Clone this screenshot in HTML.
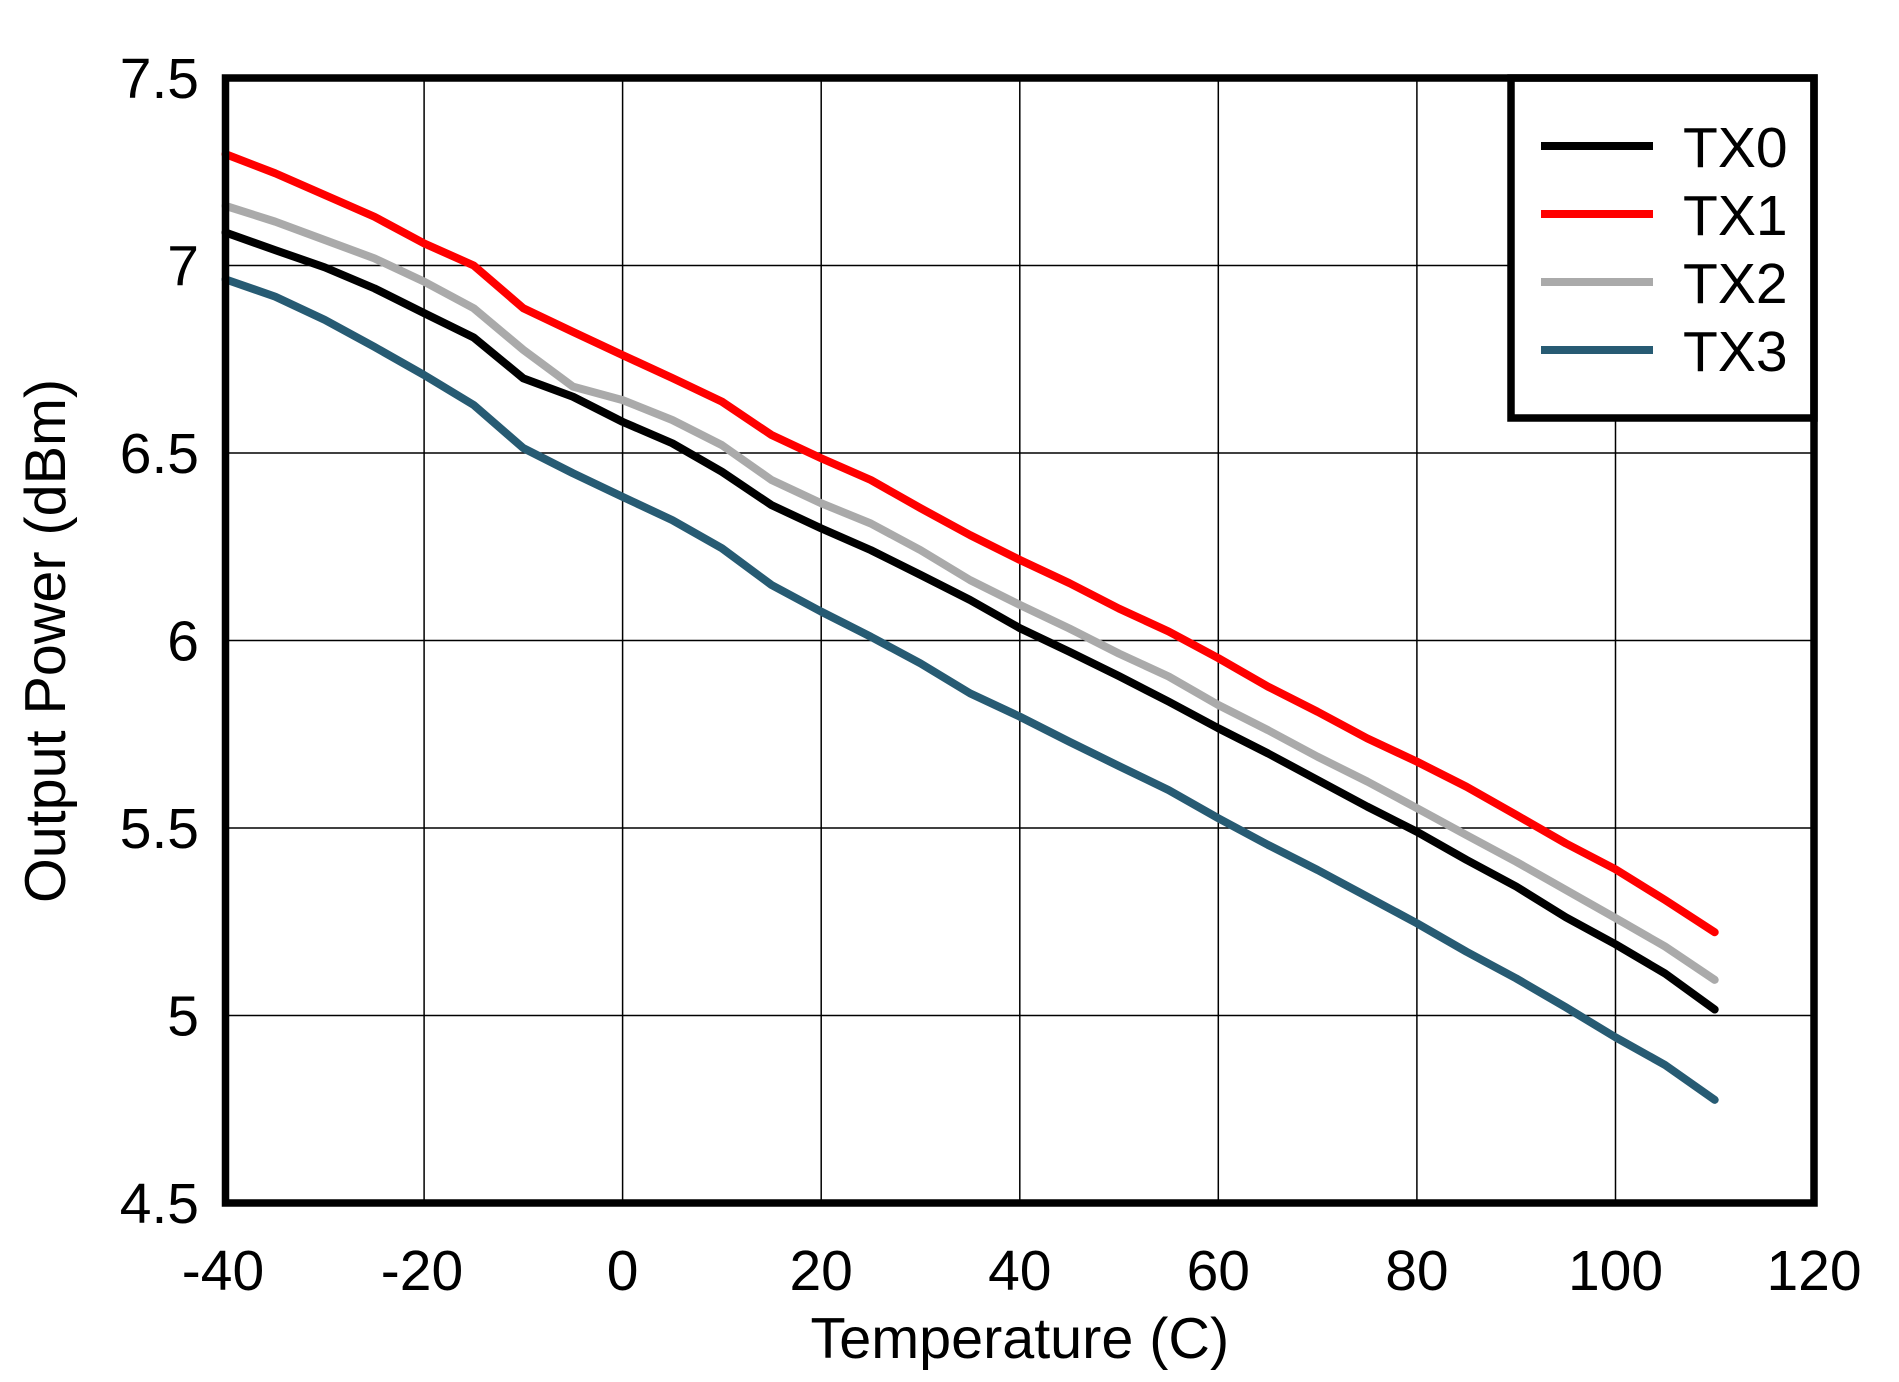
<!DOCTYPE html>
<html>
<head>
<meta charset="utf-8">
<style>
  html, body { margin: 0; padding: 0; background: #ffffff; }
  svg { display: block; }
  text { font-family: "Liberation Sans", Arial, sans-serif; fill: #000; }
</style>
</head>
<body>
<svg width="1899" height="1382" viewBox="0 0 1899 1382" xmlns="http://www.w3.org/2000/svg">
  <rect x="0" y="0" width="1899" height="1382" fill="#ffffff"/>

  <!-- grid lines -->
  <g stroke="#000" stroke-width="1.5" fill="none">
    <line x1="424.1" y1="78" x2="424.1" y2="1203"/>
    <line x1="622.6" y1="78" x2="622.6" y2="1203"/>
    <line x1="821.2" y1="78" x2="821.2" y2="1203"/>
    <line x1="1019.8" y1="78" x2="1019.8" y2="1203"/>
    <line x1="1218.3" y1="78" x2="1218.3" y2="1203"/>
    <line x1="1416.9" y1="78" x2="1416.9" y2="1203"/>
    <line x1="1615.5" y1="78" x2="1615.5" y2="1203"/>
    <line x1="225.5" y1="265.5" x2="1814" y2="265.5"/>
    <line x1="225.5" y1="453" x2="1814" y2="453"/>
    <line x1="225.5" y1="640.5" x2="1814" y2="640.5"/>
    <line x1="225.5" y1="828" x2="1814" y2="828"/>
    <line x1="225.5" y1="1015.5" x2="1814" y2="1015.5"/>
  </g>

  <!-- data series (data coordinates: T in C, v in dBm) -->
  <g transform="translate(225.5,78) scale(9.928,-375) translate(40,-7.5)" fill="none" stroke-linejoin="round" stroke-linecap="round">
    <!-- TX3 -->
    <polyline vector-effect="non-scaling-stroke" stroke="#275B73" stroke-width="8"
      points="-40,6.963 -35,6.917 -30,6.855 -25,6.783 -20,6.708 -15,6.628 -10,6.513 -5,6.446 0,6.383 5,6.321 10,6.246 15,6.148 20,6.077 25,6.01 30,5.939 35,5.859 40,5.797 45,5.73 50,5.665 55,5.601 60,5.526 65,5.455 70,5.388 75,5.317 80,5.246 85,5.17 90,5.099 95,5.022 100,4.942 105,4.868 110,4.775"/>
    <!-- TX0 -->
    <polyline vector-effect="non-scaling-stroke" stroke="#000000" stroke-width="8"
      points="-40,7.088 -35,7.041 -30,6.995 -25,6.939 -20,6.873 -15,6.808 -10,6.699 -5,6.65 0,6.583 5,6.526 10,6.45 15,6.361 20,6.299 25,6.241 30,6.175 35,6.108 40,6.033 45,5.97 50,5.905 55,5.837 60,5.766 65,5.699 70,5.628 75,5.557 80,5.49 85,5.415 90,5.344 95,5.262 100,5.19 105,5.112 110,5.016"/>
    <!-- TX2 -->
    <polyline vector-effect="non-scaling-stroke" stroke="#AAAAAA" stroke-width="8"
      points="-40,7.159 -35,7.117 -30,7.068 -25,7.019 -20,6.957 -15,6.886 -10,6.775 -5,6.677 0,6.641 5,6.588 10,6.521 15,6.428 20,6.366 25,6.312 30,6.241 35,6.161 40,6.095 45,6.032 50,5.965 55,5.904 60,5.828 65,5.761 70,5.69 75,5.624 80,5.553 85,5.481 90,5.41 95,5.335 100,5.26 105,5.184 110,5.095"/>
    <!-- TX1 -->
    <polyline vector-effect="non-scaling-stroke" stroke="#FF0000" stroke-width="8"
      points="-40,7.297 -35,7.246 -30,7.188 -25,7.13 -20,7.059 -15,7.0 -10,6.886 -5,6.823 0,6.761 5,6.70 10,6.637 15,6.548 20,6.486 25,6.428 30,6.353 35,6.281 40,6.215 45,6.153 50,6.085 55,6.024 60,5.953 65,5.877 70,5.81 75,5.739 80,5.677 85,5.61 90,5.535 95,5.459 100,5.39 105,5.308 110,5.222"/>
  </g>

  <!-- legend -->
  <rect x="1511" y="78" width="303" height="340" fill="#ffffff" stroke="#000" stroke-width="7.5"/>
  <g stroke-width="8">
    <line x1="1541" y1="146" x2="1653" y2="146" stroke="#000000"/>
    <line x1="1541" y1="214" x2="1653" y2="214" stroke="#FF0000"/>
    <line x1="1541" y1="282" x2="1653" y2="282" stroke="#AAAAAA"/>
    <line x1="1541" y1="350" x2="1653" y2="350" stroke="#275B73"/>
  </g>
  <g font-size="57">
    <text x="1683" y="167">TX0</text>
    <text x="1683" y="235">TX1</text>
    <text x="1683" y="303">TX2</text>
    <text x="1683" y="371">TX3</text>
  </g>

  <!-- plot frame -->
  <rect x="225.5" y="78" width="1588.5" height="1125" fill="none" stroke="#000" stroke-width="7.5"/>

  <!-- y tick labels -->
  <g font-size="57" text-anchor="end">
    <text x="199" y="98">7.5</text>
    <text x="199" y="285.5">7</text>
    <text x="199" y="473">6.5</text>
    <text x="199" y="660.5">6</text>
    <text x="199" y="848">5.5</text>
    <text x="199" y="1035.5">5</text>
    <text x="199" y="1223">4.5</text>
  </g>

  <!-- x tick labels -->
  <g font-size="57" text-anchor="middle">
    <text x="223" y="1290">-40</text>
    <text x="422" y="1290">-20</text>
    <text x="622.6" y="1290">0</text>
    <text x="821.2" y="1290">20</text>
    <text x="1019.8" y="1290">40</text>
    <text x="1218.3" y="1290">60</text>
    <text x="1416.9" y="1290">80</text>
    <text x="1615.5" y="1290">100</text>
    <text x="1814" y="1290">120</text>
  </g>

  <!-- axis titles -->
  <text x="1019.8" y="1358" font-size="57.5" text-anchor="middle">Temperature (C)</text>
  <text x="0" y="0" font-size="57.5" text-anchor="middle" transform="translate(65,641) rotate(-90)">Output Power (dBm)</text>
</svg>
</body>
</html>
